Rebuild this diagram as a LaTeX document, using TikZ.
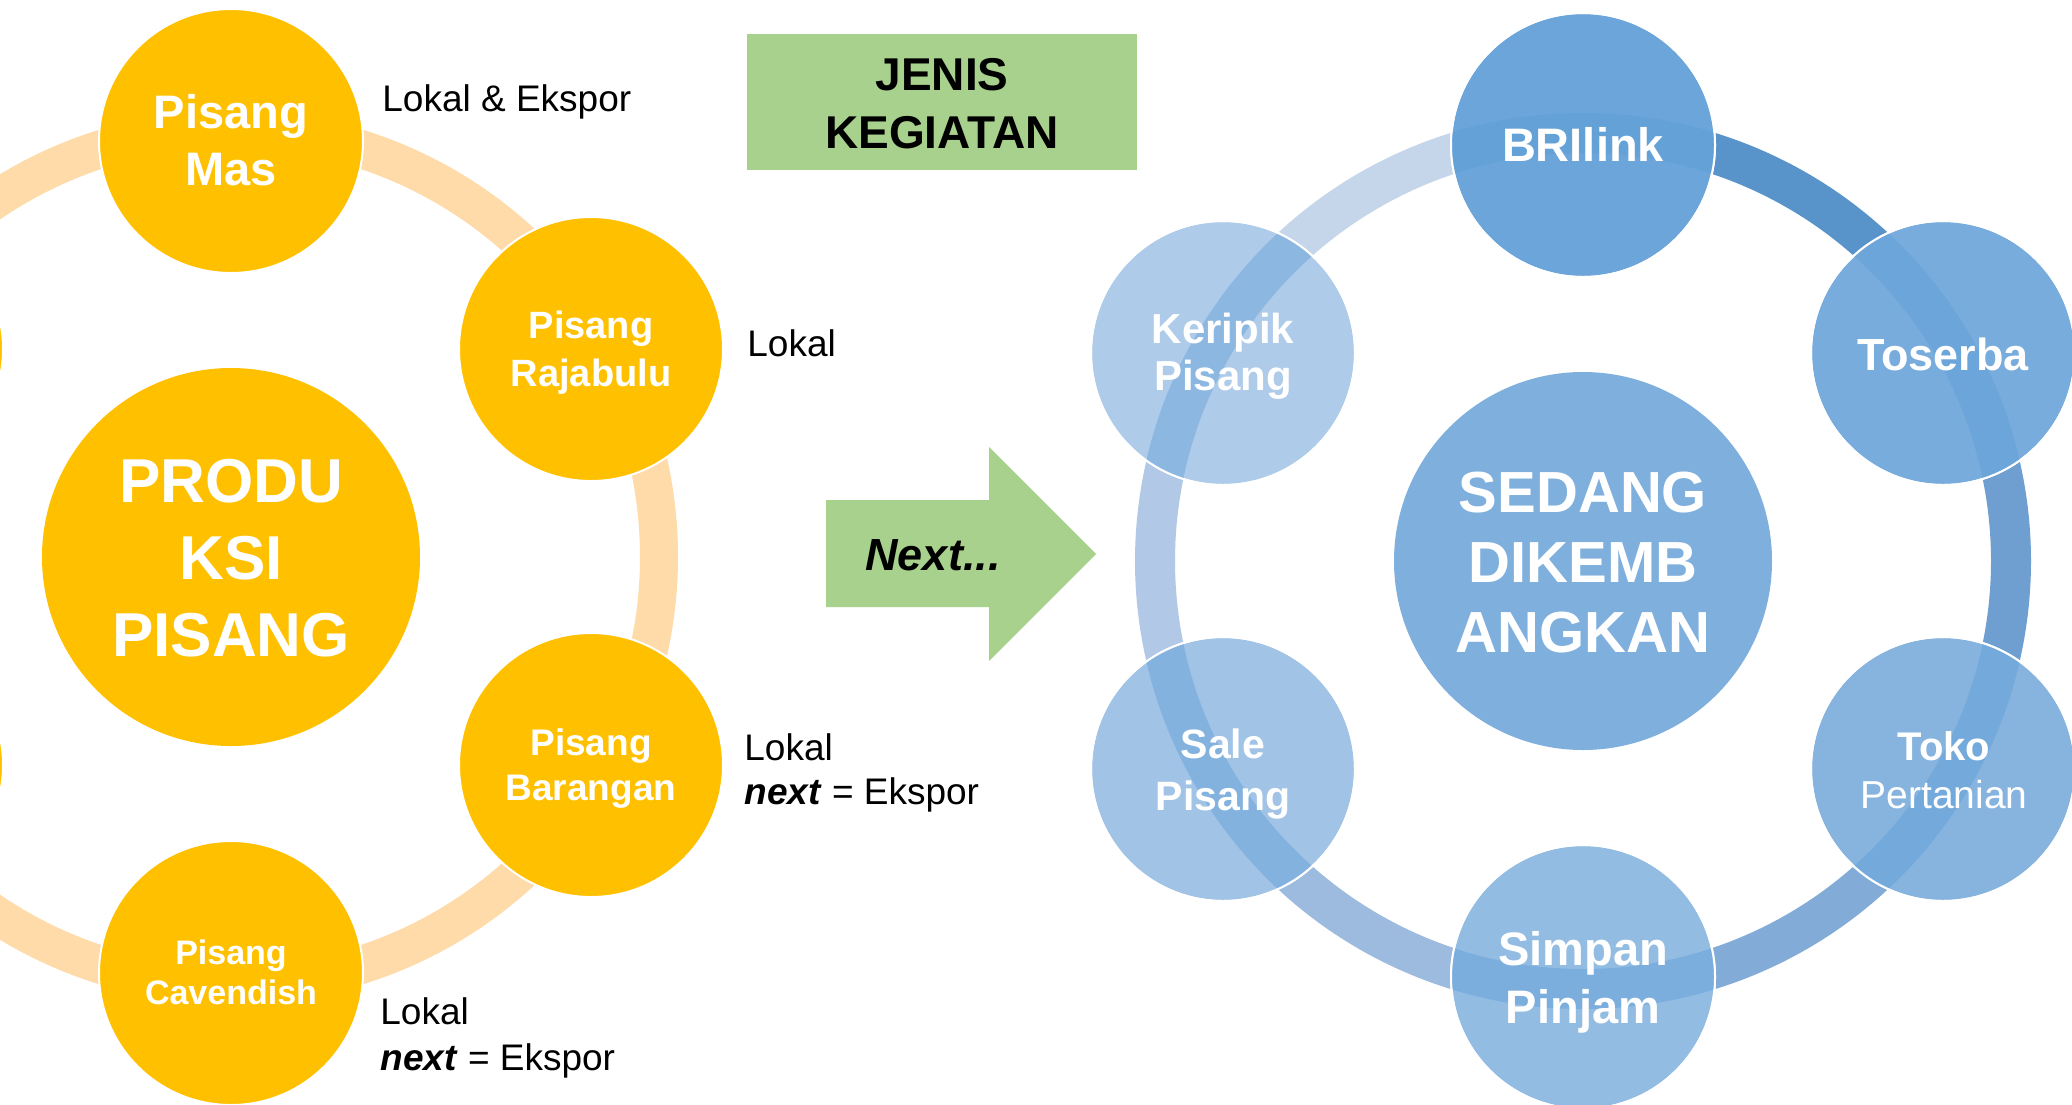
\documentclass[tikz,border=0pt]{standalone}
\usepackage{fontspec}
\setmainfont{Liberation Sans}
\definecolor{gold}{HTML}{FFC000}
\definecolor{ringgold}{HTML}{FEDBA8}
\definecolor{acc}{HTML}{5B9BD5}
\definecolor{greenbox}{HTML}{A9D18E}
\definecolor{cBRI}{HTML}{6BA5D9}
\definecolor{cTos}{HTML}{78ACDC}
\definecolor{cTok}{HTML}{86B4DF}
\definecolor{cSim}{HTML}{93BCE3}
\definecolor{cSal}{HTML}{A1C3E6}
\definecolor{cKer}{HTML}{AECBE9}
\definecolor{cMid}{HTML}{7EAFDD}
\definecolor{sA}{HTML}{C5D6EA}
\definecolor{sB}{HTML}{B1C8E6}
\definecolor{sC}{HTML}{9DBADF}
\definecolor{sD}{HTML}{82ACD7}
\definecolor{sE}{HTML}{6F9FD0}
\definecolor{sF}{HTML}{5893C9}
\tikzset{
  goldball/.style={circle, fill=gold, draw=white, line width=1pt, minimum size=132pt, inner sep=0pt},
  blueball/.style={circle, fill=#1, draw=white, line width=1pt, minimum size=132pt, inner sep=0pt},
  wtxt/.style={anchor=base, text=white, font=\bfseries\fontsize{#1}{#1}\selectfont, inner sep=0pt},
  wreg/.style={anchor=base, text=white, font=\fontsize{#1}{#1}\selectfont, inner sep=0pt},
  lbl/.style={anchor=base west, text=black, font=\fontsize{18.5}{18.5}\selectfont, inner sep=0pt},
  btxt/.style={anchor=base, text=black, font=\bfseries\fontsize{#1}{#1}\selectfont, inner sep=0pt},
}
\begin{document}
\begin{tikzpicture}[x=0.5pt,y=-0.5pt]
\clip (0,0) rectangle (2072,1104);
\fill[white] (0,0) rectangle (2072,1104);
% ---------- left cycle ----------
\coordinate (lc) at (231,557);
\draw[ringgold, line width=19pt] (lc) circle [radius=214pt];
\node[goldball] (mas) at (231,141) {};
\node[goldball] (raja) at (591,349) {};
\node[goldball] (bar) at (591,765) {};
\node[goldball] (cav) at (231,973) {};
\node[goldball] (hidA) at (-129,349) {};
\node[goldball] (hidB) at (-129,765) {};
\node[circle, fill=gold, minimum size=189pt, inner sep=0pt] (prod) at (lc) {};
\node[wtxt=23.5] (masA) at (231,128.5) {Pisang};
\node[wtxt=23.5] (masB) at (231,185.5) {Mas};
\node[wtxt=19] (rajA) at (591,338) {Pisang};
\node[wtxt=19] (rajB) at (591,386.6) {Rajabulu};
\node[wtxt=18.5] (barA) at (591,755.5) {Pisang};
\node[wtxt=18.5] (barB) at (591,800) {Barangan};
\node[wtxt=17] (cavA) at (231,964) {Pisang};
\node[wtxt=17] (cavB) at (231,1004.5) {Cavendish};
\node[wtxt=31] (proA) at (231,502) {PRODU};
\node[wtxt=31] (proB) at (231,579.5) {KSI};
\node[wtxt=31] (proC) at (231,656) {PISANG};
\node[lbl] (lab1) at (382,111) {Lokal \& Ekspor};
\node[lbl] (lab2) at (747,356) {Lokal};
\node[lbl] (lab3a) at (744,760) {Lokal};
\node[lbl] (lab3b) at (744,804) {\textbf{\textit{next}} = Ekspor};
\node[lbl] (lab4a) at (380,1024) {Lokal};
\node[lbl] (lab4b) at (380,1070) {\textbf{\textit{next}} = Ekspor};
% ---------- title box ----------
\node[fill=greenbox, minimum width=195pt, minimum height=68pt, inner sep=0pt] (box) at (942,102) {};
\node[btxt=23] (boxA) at (942,90) {JENIS};
\node[btxt=23] (boxB) at (942,148) {KEGIATAN};
% ---------- arrow ----------
\fill[greenbox] (826,500) -- (989,500) -- (989,447) -- (1096,554) -- (989,661) -- (989,607) -- (826,607) -- cycle;
\node[anchor=base, inner sep=0pt, font=\bfseries\itshape\fontsize{22.5}{22.5}\selectfont] (nxt) at (933,570) {Next...};
% ---------- right cycle ----------
\coordinate (rc) at (1583,561);
\draw[sA, line width=20pt] (rc) ++(90:214pt) arc[start angle=90, end angle=150, radius=214pt];
\draw[sB, line width=20pt] (rc) ++(150:214pt) arc[start angle=150, end angle=210, radius=214pt];
\draw[sC, line width=20pt] (rc) ++(210:214pt) arc[start angle=210, end angle=270, radius=214pt];
\draw[sD, line width=20pt] (rc) ++(270:214pt) arc[start angle=270, end angle=330, radius=214pt];
\draw[sE, line width=20pt] (rc) ++(330:214pt) arc[start angle=330, end angle=390, radius=214pt];
\draw[sF, line width=20pt] (rc) ++(30:214pt) arc[start angle=30, end angle=90, radius=214pt];
\node[blueball=cBRI] (bri) at (1583,145) {};
\node[blueball=cTos] (tos) at (1943,353) {};
\node[blueball=cTok] (tok) at (1943,769) {};
\node[blueball=cSim] (sim) at (1583,977) {};
\node[blueball=cSal] (sal) at (1223,769) {};
\node[blueball=cKer] (ker) at (1223,353) {};
\foreach \n/\c in {bri/cBRI, tos/cTos, tok/cTok, sim/cSim, sal/cSal, ker/cKer}{
  \begin{scope}
    \clip (\n) circle [radius=66pt];
    \draw[\c!58!acc, line width=20pt] (rc) circle [radius=214pt];
  \end{scope}
  \draw[white, line width=1pt] (\n) circle [radius=66pt];
}
\node[circle, fill=cMid, minimum size=189pt, inner sep=0pt] (mid) at (rc) {};
\node[wtxt=23.5] (briA) at (1583,161) {BRIlink};
\node[wtxt=22.5] (tosA) at (1943,370) {Toserba};
\node[wtxt=20] (tokA) at (1944,760) {Toko};
\node[wreg=19.5] (tokB) at (1944,808) {Pertanian};
\node[wtxt=23.5] (simA) at (1583,965) {Simpan};
\node[wtxt=23.5] (simB) at (1583,1023) {Pinjam};
\node[wtxt=20.5] (salA) at (1223,758) {Sale};
\node[wtxt=20.5] (salB) at (1223,810) {Pisang};
\node[wtxt=21] (kerA) at (1223,343) {Keripik};
\node[wtxt=21] (kerB) at (1223,390) {Pisang};
\node[wtxt=29] (midA) at (1583,512) {SEDANG};
\node[wtxt=29] (midB) at (1583,582) {DIKEMB};
\node[wtxt=29] (midC) at (1583,652) {ANGKAN};
\end{tikzpicture}
\end{document}
